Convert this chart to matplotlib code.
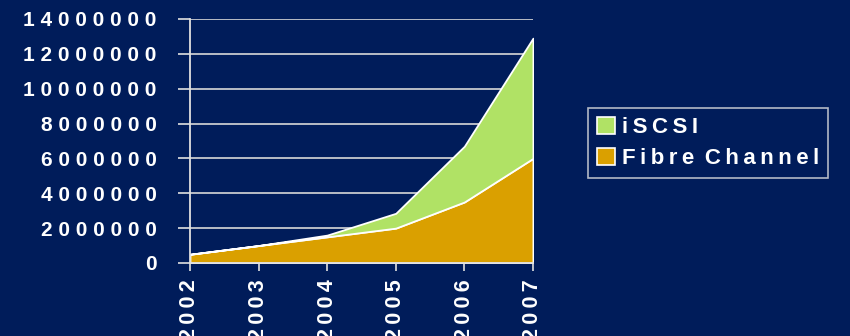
import matplotlib
matplotlib.use('Agg')
import matplotlib.pyplot as plt
from matplotlib.ticker import FuncFormatter
from matplotlib.patches import Patch

years = [2002, 2003, 2004, 2005, 2006, 2007]
fibre = [500000, 1000000, 1500000, 2000000, 3500000, 6000000]
iscsi = [0, 0, 100000, 850000, 3200000, 6900000]
series_names = ['Fibre Channel', 'iSCSI']

bg = '#001c5a'
c_fibre = '#daa000'
c_iscsi = '#b0e265'

plt.rcParams['font.family'] = ['Liberation Sans', 'DejaVu Sans']
plt.rcParams['font.weight'] = 'bold'

THIN = '\u2009'

def spaced(s, sep=THIN):
    # letter-spaced text, words kept apart by a wider gap
    return (' ' + sep).join(sep.join(w) for w in s.split(' '))

fig = plt.figure(figsize=(8.5, 3.36), dpi=100, facecolor=bg)
ax = fig.add_axes([0.2235, 0.2173, 0.4035, 0.7262])
ax.set_facecolor(bg)

ax.stackplot(years, fibre, iscsi, colors=[c_fibre, c_iscsi],
             edgecolor='white', linewidth=1.3, zorder=3)

ax.set_xlim(2002, 2007)
ax.set_ylim(0, 14000000)
ax.set_yticks(range(0, 14000001, 2000000))
ax.set_xticks(years)
ax.yaxis.set_major_formatter(FuncFormatter(lambda v, p: spaced(str(int(v)), ' ')))
ax.set_xticklabels([spaced(str(y)) for y in years], rotation=90)

ax.grid(axis='y', color='#d8d8d8', linewidth=1.2, zorder=1)
ax.set_axisbelow(True)
for s in ['top', 'right']:
    ax.spines[s].set_visible(False)
for s in ['left', 'bottom']:
    ax.spines[s].set_color('#e0e0e0')
    ax.spines[s].set_linewidth(1.3)
    ax.spines[s].set_zorder(4)

ax.tick_params(axis='y', colors='#e0e0e0', labelcolor='white', length=9,
               width=1.2, pad=15, labelsize=15)
ax.tick_params(axis='x', colors='#e0e0e0', labelcolor='white', length=6,
               width=1.2, pad=6, labelsize=15.5)

handles = [Patch(facecolor=c_iscsi, edgecolor='white', linewidth=1.2),
           Patch(facecolor=c_fibre, edgecolor='white', linewidth=1.2)]
labels = [spaced(series_names[1]), spaced(series_names[0])]
leg = fig.legend(handles, labels, loc='center left', bbox_to_anchor=(0.692, 0.574),
                 fontsize=16, frameon=True, fancybox=False, facecolor=bg,
                 edgecolor='#e0e0e0', handlelength=0.8, handleheight=0.8,
                 handletextpad=0.3, labelspacing=0.45, borderpad=0.4,
                 borderaxespad=0)
leg.get_frame().set_linewidth(1.2)
for t in leg.get_texts():
    t.set_color('white')

fig.savefig('out.png', facecolor=bg)
